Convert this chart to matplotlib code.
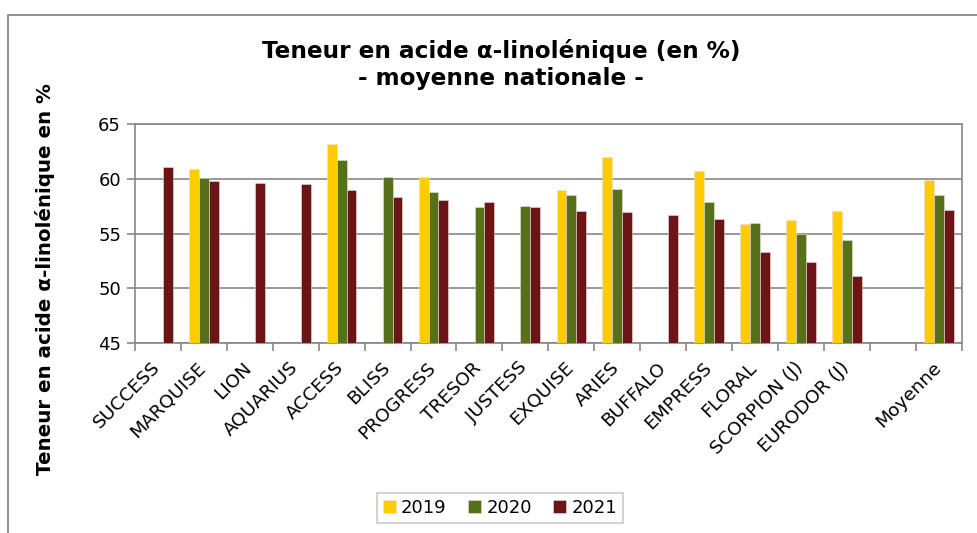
import numpy as np
import matplotlib
matplotlib.use("Agg")
import matplotlib.pyplot as plt
from matplotlib.lines import Line2D
from matplotlib.transforms import ScaledTranslation

plt.rcParams['font.family'] = ['DejaVu Sans']

# data
varieties = ['SUCCESS', 'MARQUISE', 'LION', 'AQUARIUS', 'ACCESS', 'BLISS',
             'PROGRESS', 'TRESOR', 'JUSTESS', 'EXQUISE', 'ARIES', 'BUFFALO',
             'EMPRESS', 'FLORAL', 'SCORPION (J)', 'EURODOR (J)', '', 'Moyenne']
years = ['2019', '2020', '2021']
nan = np.nan
v2019 = [nan, 60.9, nan, nan, 63.2, nan, 60.2, nan, nan, 59.0, 62.0, nan,
         60.7, 55.9, 56.2, 57.1, nan, 59.9]
v2020 = [nan, 60.1, nan, nan, 61.7, 60.2, 58.8, 57.4, 57.5, 58.5, 59.1, nan,
         57.9, 56.0, 55.0, 54.4, nan, 58.5]
v2021 = [61.1, 59.8, 59.6, 59.5, 59.0, 58.3, 58.1, 57.9, 57.4, 57.1, 57.0, 56.7,
         56.3, 53.3, 52.4, 51.1, nan, 57.2]
colors = ['#FFCC00', '#56701C', '#6B1516']

W, H = 977, 533
fig = plt.figure(figsize=(W / 100, H / 100), dpi=100)
ax = fig.add_axes([135 / W, 1 - 343.3 / H, (961.7 - 135) / W, (343.3 - 124) / H])

x = np.arange(len(varieties))
bw = 0.215
for i, (vals, c, lab) in enumerate(zip([v2019, v2020, v2021], colors, years)):
    ax.bar(x + (i - 1) * bw, np.array(vals) - 45, bottom=45, width=bw,
           color=c, edgecolor='#e8e0d8', linewidth=0.4, label=lab, zorder=3)

ax.set_ylim(45, 65)
ax.set_xlim(-0.5, len(varieties) - 0.5)
ax.set_yticks([45, 50, 55, 60, 65])
ax.yaxis.grid(True, color='#878787', linewidth=1.2, zorder=0)
for s in ax.spines.values():
    s.set_color('#878787')
    s.set_linewidth(1.2)
ax.tick_params(axis='y', colors='#878787', length=6, width=1.2, labelsize=13,
               labelcolor='black', pad=4)

ax.set_xticks(x)
ax.set_xticklabels(varieties, rotation=45, ha='right', rotation_mode='anchor',
                   fontsize=13.3)
ax.tick_params(axis='x', length=0, pad=11)
shift = ScaledTranslation(-7 / 100, 0, fig.dpi_scale_trans)
for t in ax.get_xticklabels():
    t.set_transform(t.get_transform() + shift)
ax.set_xticks(np.arange(len(varieties) + 1) - 0.5, minor=True)
ax.tick_params(axis='x', which='minor', length=6, width=1.2, colors='#878787')

ax.set_ylabel('Teneur en acide α-linolénique en %', fontsize=14.3,
              fontweight='bold')
ax.yaxis.set_label_coords(55 / W, 1 - 279 / H, transform=fig.transFigure)

fig.text(501 / W, 1 - 51 / H, 'Teneur en acide α-linolénique (en %)',
         ha='center', va='center', fontsize=16.7, fontweight='bold')
fig.text(501 / W, 1 - 79 / H, '- moyenne nationale -',
         ha='center', va='center', fontsize=16.7, fontweight='bold')

leg = fig.legend(loc='center', bbox_to_anchor=(500 / W, 1 - 508 / H), ncol=3,
                 fontsize=13, frameon=True, fancybox=False, handlelength=0.7,
                 handleheight=0.7, handletextpad=0.3, columnspacing=1.2,
                 borderpad=0.35)
leg.get_frame().set_edgecolor('#c8c8c8')
leg.get_frame().set_linewidth(1.5)

# outer chart frame (cut by the image edges)
fig.add_artist(Line2D([8 / W, 8 / W, 1.0], [0.0, 1 - 15 / H, 1 - 15 / H],
                      transform=fig.transFigure, color='#878787', linewidth=1.3))

fig.savefig('out.png', dpi=100)
